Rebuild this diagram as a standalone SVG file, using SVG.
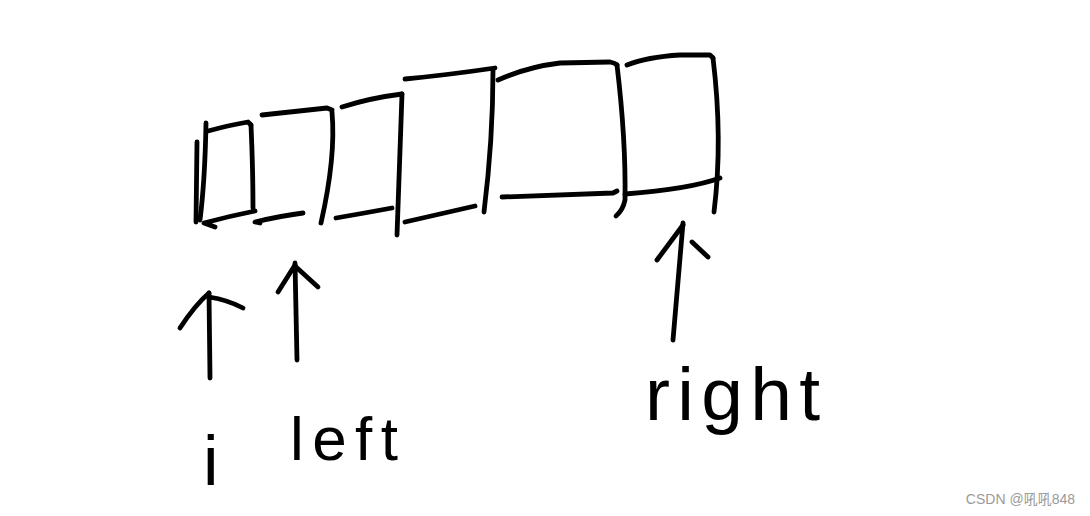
<svg xmlns="http://www.w3.org/2000/svg" width="1090" height="516" viewBox="0 0 1090 516">
<style>
.s{fill:none;stroke:#000;stroke-width:4.8;stroke-linecap:round;stroke-linejoin:round}
.t{font-family:"Liberation Sans",Arial,sans-serif;fill:#000}
.w{font-family:"Liberation Sans","Noto Sans CJK SC",sans-serif;font-size:14px;fill:#9a9a9a}
</style>
<rect width="1090" height="516" fill="#fff"/>
<g id="cell1" class="s">
<path d="M197,142 L196,222"/>
<path d="M206,123 Q205,180 200,220"/>
<path d="M208,131 Q230,125 248,122 L251,125"/>
<path d="M251,125 Q253,170 253,208"/>
<path d="M215,227 L204,223 Q230,216 255,211"/>
</g>
<g id="cell2" class="s">
<path d="M262,115 Q290,112 327,108 L332,110"/>
<path d="M332,112 Q336,157 321,223"/>
<path d="M260,223 L255,222 Q280,216 303,213"/>
</g>
<g id="cell3" class="s">
<path d="M342,107 Q370,98 402,94"/>
<path d="M402,94 L397,235"/>
<path d="M336,218 Q365,213 392,208"/>
</g>
<g id="cell4" class="s">
<path d="M405,79 Q447,75 495,68"/>
<path d="M493,70 Q493,140 484,212"/>
<path d="M405,222 L475,206"/>
</g>
<g id="cell5" class="s">
<path d="M498,80 Q527,67 560,63 L610,62 Q615,63 617,65"/>
<path d="M617,65 Q626,140 625,200 Q623,210 616,216"/>
<path d="M502,197 Q563,195 613,193 L617,191"/>
</g>
<g id="cell6" class="s">
<path d="M627,65 Q647,57 680,55 L710,55 L713,58"/>
<path d="M713,58 Q723,140 714,212"/>
<path d="M625,194 Q690,189 720,178"/>
</g>
<g id="connectors" class="s">
<path d="M209,293 L210,378"/>
<path d="M180,328 Q195,305 209,293"/>
<path d="M209,297 Q228,300 243,308"/>
<path d="M295,263 L297,360"/>
<path d="M278,292 L295,265"/>
<path d="M296,267 L318,287"/>
<path d="M683,223 Q678,280 673,340"/>
<path d="M657,260 L683,225"/>
<path d="M692,242 L708,257"/>
</g>
<g id="labels">
<text class="t" x="203" y="485" font-size="70">i</text>
<text class="t" x="290" y="460" font-size="62" textLength="108" lengthAdjust="spacing">left</text>
<text class="t" x="645" y="420" font-size="75" textLength="175" lengthAdjust="spacing">right</text>
</g>
<text class="w" x="1075" y="504" text-anchor="end">CSDN @吼吼848</text>
</svg>
